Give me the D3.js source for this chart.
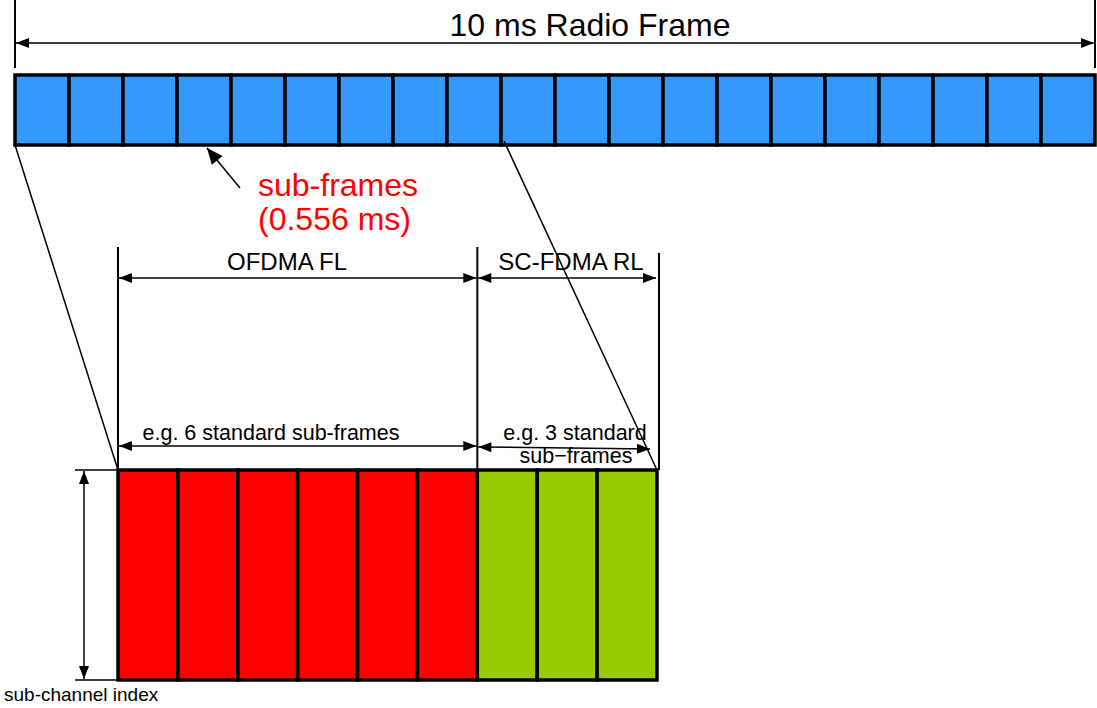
<!DOCTYPE html>
<html>
<head>
<meta charset="utf-8">
<script src="https://cdn.jsdelivr.net/npm/d3@7"></script>
<style>
  body { margin: 0; background: #fff; }
  text { font-family: "Liberation Sans", Arial, sans-serif; }
</style>
</head>
<body>
<div id="chart"></div>
<script>
// radio frame: 20 sub-frames of 0.556 ms (drawn as 20 boxes)
var frameSlots = d3.range(20);
var frameTitle = "10 ms Radio Frame";
var subLabel = ["sub-frames", "(0.556 ms)"];

// zoomed-in part: 9 sub-frames split into forward / reverse link
var linkNames = ["OFDMA FL", "SC-FDMA RL"];
var linkCounts = [6, 3];
var linkColors = ["#ff0000", "#99cc00"];
var linkNotes = [["e.g. 6 standard sub-frames"], ["e.g. 3 standard", "sub\u2212frames"]];
var axisLabel = "sub-channel index";

var width = 1097, height = 708;

var svg = d3.select("#chart").append("svg")
    .attr("width", width)
    .attr("height", height);

var frameBox = {y0: 75, y1: 145};
var blockBox = {y0: 470, y1: 680};

var xTop = d3.scaleLinear().domain([0, frameSlots.length]).range([15, 1095]);
var totalLink = d3.sum(linkCounts);
var xBot = d3.scaleLinear().domain([0, totalLink]).range([118, 657]);

// helper: a line with filled arrowheads at one or both ends
function arrow(x1, y1, x2, y2, both, len, wid) {
    len = len || 13; wid = wid || 5;
    svg.append("line")
        .attr("x1", x1).attr("y1", y1).attr("x2", x2).attr("y2", y2)
        .attr("stroke", "#000").attr("stroke-width", 1.5);
    function head(xa, ya, xb, yb) {
        // head at (xb,yb) pointing away from (xa,ya)
        var a = Math.atan2(yb - ya, xb - xa);
        var bx = xb - len * Math.cos(a), by = yb - len * Math.sin(a);
        var px = -Math.sin(a) * wid, py = Math.cos(a) * wid;
        svg.append("path")
            .attr("d", "M" + xb + "," + yb + "L" + (bx + px) + "," + (by + py) + "L" + (bx - px) + "," + (by - py) + "Z")
            .attr("fill", "#000");
    }
    head(x1, y1, x2, y2);
    if (both) head(x2, y2, x1, y1);
}

function vline(x, y1, y2, w) {
    svg.append("line")
        .attr("x1", x).attr("y1", y1).attr("x2", x).attr("y2", y2)
        .attr("stroke", "#000").attr("stroke-width", w || 2);
}

// ---- top frame ----
vline(xTop(0), 0, 68);
vline(xTop(frameSlots.length), 0, 68);
arrow(xTop(0) + 1, 43, xTop(frameSlots.length) - 1, 43, true);

svg.append("text")
    .attr("x", 590)
    .attr("y", 36)
    .attr("text-anchor", "middle")
    .attr("font-size", 32)
    .text(frameTitle);

svg.append("g").selectAll("rect")
    .data(frameSlots)
  .enter().append("rect")
    .attr("x", function (d) { return xTop(d); })
    .attr("y", frameBox.y0)
    .attr("width", function (d) { return xTop(d + 1) - xTop(d); })
    .attr("height", frameBox.y1 - frameBox.y0)
    .attr("fill", "#3399ff")
    .attr("stroke", "#000")
    .attr("stroke-width", 3.5);

// zoom lines from top frame to the bottom block
svg.append("line")
    .attr("x1", xTop(0)).attr("y1", frameBox.y1)
    .attr("x2", xBot(0)).attr("y2", blockBox.y0)
    .attr("stroke", "#000").attr("stroke-width", 1.5);
svg.append("line")
    .attr("x1", xTop(totalLink) + 3).attr("y1", frameBox.y1 - 4)
    .attr("x2", xBot(totalLink)).attr("y2", blockBox.y0)
    .attr("stroke", "#000").attr("stroke-width", 1.5);

// sub-frame callout
arrow(240, 188, 207, 148, false, 16, 7);
svg.append("g").selectAll("text")
    .data(subLabel)
  .enter().append("text")
    .attr("x", 258)
    .attr("y", function (d, i) { return 196 + i * 34; })
    .attr("font-size", 32)
    .attr("fill", "#ff0000")
    .text(function (d) { return d; });

// ---- bottom block ----
var starts = [0, linkCounts[0]];
var cells = [];
linkCounts.forEach(function (c, k) {
    d3.range(c).forEach(function (j) { cells.push({i: starts[k] + j, k: k}); });
});

// dimension lines
vline(xBot(0), 247, blockBox.y0);
vline(xBot(linkCounts[0]), 247, blockBox.y0);
vline(xBot(totalLink) + 2, 253, blockBox.y0);

var nameX = [287, 571], noteX = [271, 575];
linkNames.forEach(function (name, k) {
    var xa = xBot(starts[k]), xb = xBot(starts[k] + linkCounts[k]);
    arrow(xa + 1, 278, xb - 1, 278, true);
    svg.append("text")
        .attr("x", nameX[k])
        .attr("y", 270)
        .attr("text-anchor", "middle")
        .attr("font-size", 24)
        .text(name);
    var ay = k ? 447 : 446;
    arrow(xa + 1, ay, k ? xb - 7 : xb - 1, ay + (k ? 2 : 0), true);
    linkNotes[k].forEach(function (t, j) {
        svg.append("text")
            .attr("x", noteX[k] + j)
            .attr("y", 440 + j * 23)
            .attr("text-anchor", "middle")
            .attr("font-size", 21.5)
            .text(t);
    });
});

svg.append("g").selectAll("rect")
    .data(cells)
  .enter().append("rect")
    .attr("x", function (d) { return xBot(d.i); })
    .attr("y", blockBox.y0)
    .attr("width", function (d) { return xBot(d.i + 1) - xBot(d.i); })
    .attr("height", blockBox.y1 - blockBox.y0)
    .attr("fill", function (d) { return linkColors[d.k]; })
    .attr("stroke", "#000")
    .attr("stroke-width", 3.5);

// sub-channel extent
svg.append("line").attr("x1", 75).attr("x2", xBot(0)).attr("y1", blockBox.y0).attr("y2", blockBox.y0)
    .attr("stroke", "#000").attr("stroke-width", 1.5);
svg.append("line").attr("x1", 75).attr("x2", xBot(0)).attr("y1", blockBox.y1).attr("y2", blockBox.y1)
    .attr("stroke", "#000").attr("stroke-width", 1.5);
arrow(84, blockBox.y0 + 1, 84, blockBox.y1 - 1, true);

svg.append("text")
    .attr("x", 4)
    .attr("y", 701)
    .attr("font-size", 19)
    .text(axisLabel);
</script>
</body>
</html>
